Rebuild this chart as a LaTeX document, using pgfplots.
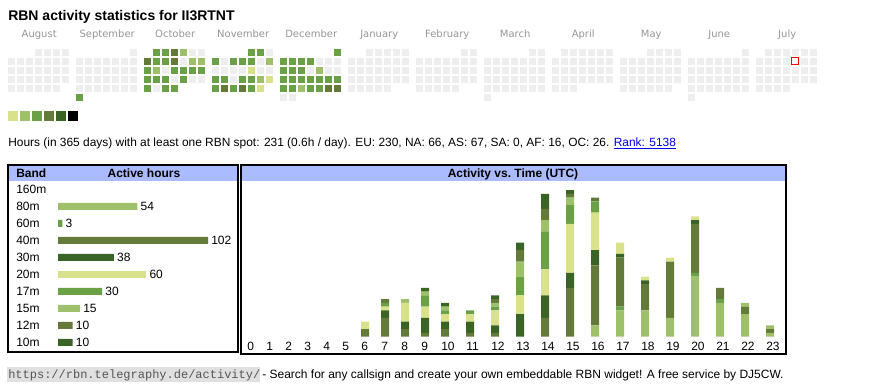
\documentclass[border=0pt]{standalone}
\usepackage{pgfplots}
\pgfplotsset{compat=1.18}
\usepackage{pgfplotstable}
\usepackage{fontspec}
\setmainfont{Liberation Sans}
\setmonofont{Liberation Mono}
\newfontfamily\verd{DejaVu Sans}
\newcommand\fs[1]{\fontsize{#1}{#1}\selectfont}
\definecolor{cZ}{RGB}{238,238,238}
\definecolor{cA}{RGB}{217,226,139}
\definecolor{cB}{RGB}{158,192,106}
\definecolor{cC}{RGB}{106,160,70}
\definecolor{cD}{RGB}{100,122,58}
\definecolor{cE}{RGB}{58,100,38}
\definecolor{headblue}{RGB}{170,187,255}
\definecolor{monthgray}{RGB}{150,150,150}
\definecolor{linkblue}{RGB}{0,0,238}
\definecolor{urlbg}{RGB}{224,224,224}
\definecolor{urltext}{RGB}{85,85,85}

% calendar: month index (Aug=0), week row, weekday columns (-1 = no day)
\pgfplotstableread{
m r d1 d2 d3 d4 d5 d6 d7
0 1 -1 -1 -1 0 0 0 0
0 2 0 0 0 0 0 0 0
0 3 0 0 0 0 0 0 0
0 4 0 0 0 0 0 0 0
0 5 0 0 0 0 0 0 -1
1 1 -1 -1 -1 -1 -1 -1 0
1 2 0 0 0 0 0 0 0
1 3 0 0 0 0 0 0 0
1 4 0 0 0 0 0 0 0
1 5 0 0 0 0 0 0 0
1 6 3 -1 -1 -1 -1 -1 -1
2 1 -1 3 3 4 2 0 0
2 2 4 3 3 4 0 2 2
2 3 3 2 0 3 3 3 3
2 4 3 3 3 0 3 0 0
2 5 3 0 3 3 -1 -1 -1
3 1 -1 -1 -1 -1 3 3 0
3 2 3 0 3 3 3 0 2
3 3 0 0 0 0 1 0 0
3 4 3 3 0 3 3 2 1
3 5 3 4 3 4 3 1 -1
4 1 -1 -1 -1 -1 -1 -1 3
4 2 3 3 3 3 0 0 0
4 3 3 3 3 0 2 0 0
4 4 3 3 3 3 3 3 3
4 5 3 3 2 3 3 4 4
4 6 0 0 -1 -1 -1 -1 -1
5 1 -1 -1 0 0 0 0 0
5 2 0 0 0 0 0 0 0
5 3 0 0 0 0 0 0 0
5 4 0 0 0 0 0 0 0
5 5 0 0 0 0 0 -1 -1
6 1 -1 -1 -1 -1 -1 0 0
6 2 0 0 0 0 0 0 0
6 3 0 0 0 0 0 0 0
6 4 0 0 0 0 0 0 0
6 5 0 0 0 0 0 -1 -1
7 1 -1 -1 -1 -1 -1 0 0
7 2 0 0 0 0 0 0 0
7 3 0 0 0 0 0 0 0
7 4 0 0 0 0 0 0 0
7 5 0 0 0 0 0 0 0
7 6 0 -1 -1 -1 -1 -1 -1
8 1 -1 0 0 0 0 0 0
8 2 0 0 0 0 0 0 0
8 3 0 0 0 0 0 0 0
8 4 0 0 0 0 0 0 0
8 5 0 0 0 -1 -1 -1 -1
9 1 -1 -1 -1 0 0 0 0
9 2 0 0 0 0 0 0 0
9 3 0 0 0 0 0 0 0
9 4 0 0 0 0 0 0 0
9 5 0 0 0 0 0 0 -1
10 1 -1 -1 -1 -1 -1 -1 0
10 2 0 0 0 0 0 0 0
10 3 0 0 0 0 0 0 0
10 4 0 0 0 0 0 0 0
10 5 0 0 0 0 0 0 0
10 6 0 -1 -1 -1 -1 -1 -1
11 1 -1 0 0 0 0 0 0
11 2 0 0 0 0 -1 0 0
11 3 0 0 0 0 0 0 0
11 4 0 0 0 0 0 0 0
11 5 0 0 0 0 -1 -1 -1
}\cal

% activity per UTC hour, per band (x = column position in px)
\pgfplotstableread{
x h a80 a60 a40 a30 a20 a17 a15 a12 a10
251 0 0 0 0 0 0 0 0 0 0
270 1 0 0 0 0 0 0 0 0 0
289 2 0 0 0 0 0 0 0 0 0
308 3 0 0 0 0 0 0 0 0 0
327 4 0 0 0 0 0 0 0 0 0
346 5 0 0 0 0 0 0 0 0 0
365 6 0 0 2 0 2 0 0 0 0
385 7 0 0 5 2 1 1 0 1 0
405 8 0 0 2 2 5 0 1 0 0
425 9 0 0 1 4 3 3 1 0 1
445 10 0 0 2 2 2 1 1 0 1
470 11 0 0 1 3 2 1 0 0 0
495 12 0 0 1 2 4 1 1 1 1
520 13 0 0 0 6 5 5 4 3 2
545 14 0 0 5 6 7 10 3 3 4
570 15 0 0 13 4 13 5 2 1 1
595 16 3 0 16 4 10 3 0 1 0
620 17 7 1 13 1 3 0 0 0 0
645 18 7 0 7 1 1 0 0 0 0
670 19 5 0 15 0 1 0 0 0 0
695 20 16 1 13 1 1 0 0 0 0
720 21 9 1 3 0 0 0 0 0 0
745 22 6 0 2 0 0 0 1 0 0
770 23 1 0 1 0 0 0 1 0 0
}\hours

% one weekday column of the calendar, one activity level
\newcommand\calcell[3]{%
\addplot[only marks, mark=square*, mark size=2.2pt,
  mark options={draw=#3, fill=#3, line width=0.3pt},
  restrict expr to domain={\thisrow{d#1}}{#2}]
  table[x expr={11.4+68*\thisrow{m}+9*(#1-1)}, y expr={52.3+9*(\thisrow{r}-1)}] {\cal};}
\newcommand\legsq[2]{%
\addplot[only marks, mark=square*, mark size=3.2pt,
  mark options={draw=#2, fill=#2, line width=0.3pt}] coordinates {(#1,115.7)};}

\begin{document}
\begin{tikzpicture}
\begin{scope}[x=0.75pt,y=-0.75pt]
\fill[headblue] (9.3,166) rectangle (237.3,181);
\fill[headblue] (242,166) rectangle (785,181);
\fill[urlbg] (7,367) rectangle (260,382);
\end{scope}

% calendar heat map (axis in pixel units)
\begin{axis}[at={(0pt,0pt)}, anchor=north west, width=652.5pt, height=292.5pt,
  scale only axis, xmin=0, xmax=870, ymin=0, ymax=390, y dir=reverse,
  hide axis, clip=false]
\pgfplotsinvokeforeach{1,...,7}{
\calcell{#1}{-0.5:0.5}{cZ}
\calcell{#1}{0.5:1.5}{cA}
\calcell{#1}{1.5:2.5}{cB}
\calcell{#1}{2.5:3.5}{cC}
\calcell{#1}{3.5:4.5}{cD}
\calcell{#1}{4.5:5.5}{cE}
}
\legsq{12.8}{cA}
\legsq{24.8}{cB}
\legsq{36.8}{cC}
\legsq{48.8}{cD}
\legsq{60.8}{cE}
\legsq{72.8}{black}
\addplot[only marks, mark=square*, mark size=2.63pt,
  mark options={fill=white, draw=red, line width=0.75pt}] coordinates {(795.4,61.3)};
\end{axis}

% band bars
\begin{axis}[at={(43.5pt,-135.6pt)}, anchor=north west, scale only axis,
  width=112.5pt, height=127.5pt, xmin=0, xmax=102, ymin=-0.5, ymax=9.5,
  y dir=reverse, xbar, bar width=5.25pt, clip=false,
  axis line style={draw=none}, major tick length=0pt,
  xtick=\empty, ytick={0,1,2,3,4,5,6,7,8,9},
  yticklabels={160m,80m,60m,40m,30m,20m,17m,15m,12m,10m},
  yticklabel style={anchor=west, inner sep=0pt, xshift=-31.5pt, font=\fs{9pt}},
  nodes near coords,
  nodes near coords style={font=\fs{9pt}, inner sep=2.25pt, anchor=west},
  /pgf/number format/assume math mode=true]
\addplot[fill=cB, draw=none, bar shift=0pt] coordinates {(54,1) (15,7)};
\addplot[fill=cC, draw=none, bar shift=0pt] coordinates {(3,2) (30,6)};
\addplot[fill=cD, draw=none, bar shift=0pt] coordinates {(102,3) (10,8)};
\addplot[fill=cE, draw=none, bar shift=0pt] coordinates {(38,4) (10,9)};
\addplot[fill=cA, draw=none, bar shift=0pt] coordinates {(60,5)};
\end{axis}

% activity vs time
\begin{axis}[at={(180pt,-252.525pt)}, anchor=south west, scale only axis,
  width=410.25pt, height=112.8pt, xmin=240, xmax=787, ymin=0, ymax=40,
  ybar stacked, bar width=6pt, clip=false,
  axis line style={draw=none}, major tick length=0pt,
  ytick=\empty, xtick=data,
  xticklabels={0,1,2,3,4,5,6,7,8,9,10,11,12,13,14,15,16,17,18,19,20,21,22,23},
  xticklabel style={anchor=base west, inner sep=0pt, xshift=-3pt, yshift=-10pt, font=\fs{9pt}}]
\addplot[fill=cB, draw=none] table[x=x, y=a80] {\hours};
\addplot[fill=cC, draw=none] table[x=x, y=a60] {\hours};
\addplot[fill=cD, draw=none] table[x=x, y=a40] {\hours};
\addplot[fill=cE, draw=none] table[x=x, y=a30] {\hours};
\addplot[fill=cA, draw=none] table[x=x, y=a20] {\hours};
\addplot[fill=cC, draw=none] table[x=x, y=a17] {\hours};
\addplot[fill=cB, draw=none] table[x=x, y=a15] {\hours};
\addplot[fill=cD, draw=none] table[x=x, y=a12] {\hours};
\addplot[fill=cE, draw=none] table[x=x, y=a10] {\hours};
\end{axis}

\begin{scope}[x=0.75pt,y=-0.75pt]
\draw[line width=1.5pt] (8.3,165) rectangle (238.3,352);
\draw[line width=1.5pt] (241,165) rectangle (786,353.5);
\node[anchor=base west, inner sep=0pt, font=\bfseries\fs{10.5pt}] at (8,20.7) {RBN activity statistics for II3RTNT};
\foreach \n [count=\i from 0] in {August,September,October,November,December,January,February,March,April,May,June,July}
  \node[anchor=base, inner sep=0pt, font=\verd\fs{7.5pt}, text=monthgray] at ({39.2+68*\i},37.7) {\n};
\node[anchor=base west, inner sep=0pt, font=\fs{8.95pt}] at (8,146) {Hours (in 365 days) with at least one RBN spot: 231 (0.6h / day). EU: 230, NA: 66, AS: 67, SA: 0, AF: 16, OC: 26. \textcolor{linkblue}{\underline{Rank: 5138}}};
\node[anchor=base west, inner sep=0pt, font=\bfseries\fs{9pt}] at (16,177.3) {Band};
\node[anchor=base, inner sep=0pt, font=\bfseries\fs{9pt}] at (144,177.3) {Active hours};
\node[anchor=base, inner sep=0pt, font=\bfseries\fs{9pt}] at (513,177.3) {Activity vs.\ Time (UTC)};
\node[anchor=base west, inner sep=0pt, font=\ttfamily\fs{9pt}, text=urltext] at (8,378) {https://rbn.telegraphy.de/activity/};
\node[anchor=base west, inner sep=0pt, font=\fs{9pt}] at (262,378) {- Search for any callsign and create your own embeddable RBN widget! A free service by DJ5CW.};
\end{scope}

\pgfresetboundingbox
\path[use as bounding box] (0pt,0pt) rectangle (652.5pt,-292.5pt);
\end{tikzpicture}
\end{document}
